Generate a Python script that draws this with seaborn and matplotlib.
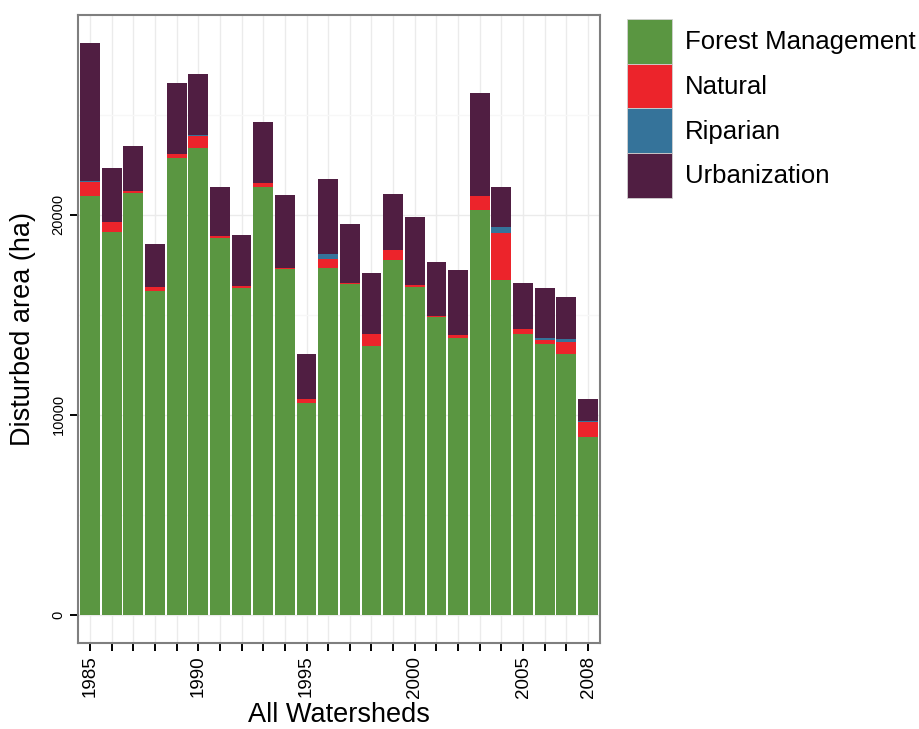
import numpy as np
import pandas as pd
import matplotlib
matplotlib.use("Agg")
import matplotlib.pyplot as plt
import matplotlib.patches as mpatches
import seaborn as sns

years = list(range(1985, 2009))
forest = [20950, 19150, 21075, 16175, 22825, 23325, 18825, 16325, 21375, 17275,
          10575, 17325, 16525, 13425, 17725, 16375, 14875, 13825, 20225, 16725,
          14025, 13525, 13025, 8875]
natural = [675, 480, 100, 200, 200, 600, 100, 100, 200, 50,
           200, 430, 50, 600, 500, 100, 70, 150, 700, 2350,
           250, 200, 600, 750]
riparian = [50, 0, 0, 0, 0, 50, 0, 0, 0, 0,
            0, 270, 0, 0, 0, 0, 0, 0, 0, 300,
            0, 100, 150, 50]
urban = [6900, 2700, 2250, 2150, 3550, 3050, 2450, 2550, 3050, 3650,
         2250, 3750, 2950, 3050, 2800, 3400, 2680, 3250, 5150, 2000,
         2300, 2500, 2100, 1100]
categories = ["Forest Management", "Natural", "Riparian", "Urbanization"]
colors = ["#5a9641", "#ec242b", "#35739a", "#501e42"]
label_years = [1985, 1990, 1995, 2000, 2005, 2008]

df = pd.DataFrame({"year": years, "Forest Management": forest, "Natural": natural,
                   "Riparian": riparian, "Urbanization": urban})
cum = df[categories].cumsum(axis=1)

sns.set_theme(style="white")
plt.rcParams["font.family"] = ["Liberation Sans", "DejaVu Sans"]
plt.rcParams["text.color"] = "black"
plt.rcParams["axes.labelcolor"] = "black"
plt.rcParams["xtick.color"] = "black"
plt.rcParams["ytick.color"] = "black"

fig = plt.figure(figsize=(9.2, 7.29), dpi=100)
ax = fig.add_axes([78/920, 1-643/729, (600-78)/920, (643-15)/729])

ax.set_axisbelow(True)
for cat, col in reversed(list(zip(categories, colors))):
    sns.barplot(x=df["year"], y=cum[cat], color=col, saturation=1, width=0.92,
                linewidth=0, ax=ax, zorder=3)

ax.set_xlim(-0.55, len(years) - 0.45)
ax.set_ylim(-1425, 29975)
ax.set_xticks(range(len(years)))
ax.set_xticklabels([str(y) if y in label_years else "" for y in years],
                   rotation=90, fontsize=13.5, color="black")
ax.set_yticks([0, 10000, 20000])
ax.set_yticklabels(["0", "10000", "20000"], rotation=90, va="center",
                   fontsize=10.5, color="black")
ax.set_yticks([5000, 15000, 25000], minor=True)
ax.grid(True, which="major", axis="both", color="#ebebeb", linewidth=1, zorder=0)
ax.grid(True, which="minor", axis="y", color="#f7f7f7", linewidth=1, zorder=0)
ax.tick_params(axis="both", which="major", length=6, width=1.4, color="black",
               direction="out", bottom=True, left=True, pad=3)
ax.tick_params(axis="y", which="minor", length=0)
for s in ax.spines.values():
    s.set_color("#7f7f7f")
    s.set_linewidth(1.5)

ax.set_xlabel("All Watersheds", fontsize=19.5)
ax.set_ylabel("Disturbed area (ha)", fontsize=19.5)
ax.xaxis.set_label_coords(0.5, -0.094)
ax.yaxis.set_label_coords(-0.080, 0.5)

handles = [mpatches.Patch(facecolor=c, edgecolor="#d0d0d0", linewidth=0.6) for c in colors]
fig.legend(handles, categories, loc="upper left",
           bbox_to_anchor=(627/920, 1-19/729), bbox_transform=fig.transFigure,
           frameon=False, fontsize=18.5, handlelength=1.75, handleheight=2.3,
           labelspacing=0, borderpad=0, handletextpad=0.5, borderaxespad=0)

fig.savefig("out.png", dpi=100)
